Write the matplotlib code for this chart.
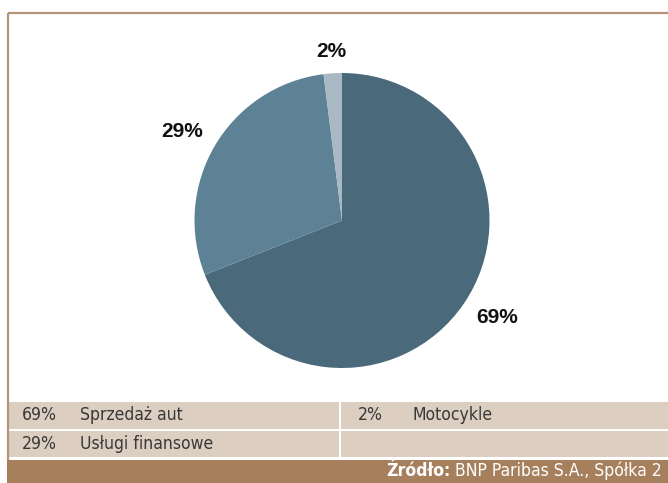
import matplotlib.pyplot as plt
from matplotlib.patches import Rectangle
import numpy as np

# data
shares = [69, 29, 2]
labels = ['Sprzedaż aut', 'Usługi finansowe', 'Motocykle']
colors = ['#4a6a7c', '#5e8295', '#a9b9c3']

# label placement (distance in radii, angle nudge in degrees)
label_dist = [1.24, 1.24, 1.15]
label_nudge = [2, 1.5, 0]

W, H = 668, 483
fig = plt.figure(figsize=(W / 100, H / 100), dpi=100)
fig.patch.set_facecolor('white')

def box(x0, y0, x1, y1):
    # pixel box (top-left origin) -> figure fraction rect
    return [x0 / W, 1 - y1 / H, (x1 - x0) / W, (y1 - y0) / H]

# frame lines
bg = fig.add_axes([0, 0, 1, 1])
bg.set_xlim(0, W)
bg.set_ylim(H, 0)
bg.axis('off')
line_c = '#b39478'
bg.plot([7.5, W], [12.5, 12.5], color=line_c, lw=1.6, solid_capstyle='butt')
bg.plot([7.5, 7.5], [12.5, 460], color=line_c, lw=1.6, solid_capstyle='butt')

# legend table
cell_c = '#ddcec2'
rows = [(402, 429), (431, 457)]
cols = [(8, 339), (341, W)]
for y0, y1 in rows:
    for x0, x1 in cols:
        bg.add_patch(Rectangle((x0, y0), x1 - x0, y1 - y0, color=cell_c, lw=0))

leg_kw = dict(family='DejaVu Sans', stretch='condensed', fontsize=12.6)
cells = [(0, 0), (1, 0), (0, 1)]
for (r, c), s, lab in zip(cells, shares, labels):
    y = (rows[r][0] + rows[r][1]) / 2
    xp = [22, 358][c]
    xl = [80, 412][c]
    bg.text(xp, y, f'{s}%', ha='left', va='center', color='#383838', **leg_kw)
    bg.text(xl, y, lab, ha='left', va='center', color='#383838', **leg_kw)

# footer
bg.add_patch(Rectangle((7, 460), W - 7, H - 460, color='#a67f5d', lw=0))
src = bg.text(662, 471, 'BNP Paribas S.A., Spółka 2', ha='right', va='center',
              color='white', **leg_kw)
fig.canvas.draw()
bb = src.get_window_extent()
bg.text(bb.x0 - 5, 471, 'Źródło:', ha='right', va='center', color='white',
        fontweight='bold', **leg_kw)

# pie
ax = fig.add_axes(box(194.5, 73, 489.5, 368))
wedges, _ = ax.pie(shares, colors=colors, startangle=90, counterclock=False,
                   radius=1, wedgeprops=dict(linewidth=0))
ax.set_xlim(-1, 1)
ax.set_ylim(-1, 1)
ax.set_aspect('equal')
ax.axis('off')
for w, s, d, n in zip(wedges, shares, label_dist, label_nudge):
    ang = np.deg2rad((w.theta1 + w.theta2) / 2 + n)
    ax.text(d * np.cos(ang), d * np.sin(ang), f'{s}%', ha='center', va='center',
            fontsize=15, fontweight='bold', family='Liberation Sans',
            color='#111111', clip_on=False)

fig.savefig('out.png', dpi=100)
